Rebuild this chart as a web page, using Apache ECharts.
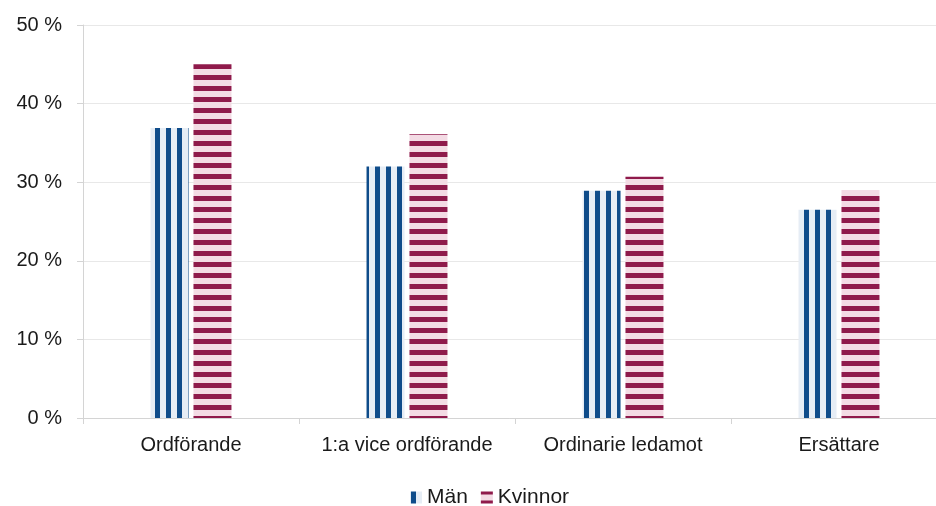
<!DOCTYPE html>
<html>
<head>
<meta charset="utf-8">
<script src="https://cdn.jsdelivr.net/npm/echarts@6/dist/echarts.min.js"></script>
<style>
html,body{margin:0;padding:0;background:#fff;overflow:hidden;}
#c{width:936px;height:506px;}
</style>
</head>
<body>
<div id="c"></div>
<script>
const categories = ['Ordförande', '1:a vice ordförande', 'Ordinarie ledamot', 'Ersättare'];
const manValues = [36.9, 32.0, 28.9, 26.5];
const kvinnorValues = [45.0, 36.1, 30.7, 29.0];
const yTicks = { min: 0, max: 50, interval: 10 };

function makePattern(bg, fg, vertical, offset) {
  const size = 11, stripe = 5;
  const cv = document.createElement('canvas');
  cv.width = size; cv.height = size;
  const ctx = cv.getContext('2d');
  ctx.fillStyle = bg;
  ctx.fillRect(0, 0, size, size);
  ctx.fillStyle = fg;
  for (let i = 0; i < stripe; i++) {
    const p = (offset + i) % size;
    if (vertical) ctx.fillRect(p, 0, 1, size);
    else ctx.fillRect(0, p, size, 1);
  }
  return cv;
}

const manPattern = { image: makePattern('#e6edf5', '#0f4c8a', true, 1), repeat: 'repeat' };
const kvPattern = { image: makePattern('#f3dbe4', '#8f1a4b', false, 9), repeat: 'repeat' };

const font = '"Liberation Sans", Arial, sans-serif';
const chart = echarts.init(document.getElementById('c'), null, { renderer: 'canvas' });
chart.setOption({
  animation: false,
  textStyle: { fontFamily: font },
  grid: { left: 83, right: -11, top: 25, bottom: 88, containLabel: false, outerBoundsMode: 'none' },
  legend: {
    left: 405, top: 482,
    itemWidth: 12, itemHeight: 12, itemGap: 13,
    icon: 'rect',
    textStyle: { fontFamily: font, fontSize: 21, color: '#1a1a1a', padding: [0, 0, 0, 0] },
    data: ['Män', 'Kvinnor']
  },
  xAxis: {
    type: 'category',
    data: categories,
    axisLine: { show: true, lineStyle: { color: '#d4d4d4', width: 1 } },
    axisTick: { show: true, length: 6, lineStyle: { color: '#d4d4d4' } },
    axisLabel: { fontFamily: font, fontSize: 20, color: '#1a1a1a', margin: 17, interval: 0, hideOverlap: false }
  },
  yAxis: {
    type: 'value',
    min: yTicks.min, max: yTicks.max, interval: yTicks.interval,
    axisLine: { show: true, lineStyle: { color: '#d4d4d4', width: 1 } },
    axisTick: { show: true, length: 6, lineStyle: { color: '#d4d4d4' } },
    splitLine: { show: true, lineStyle: { color: '#e8e8e8', width: 1 } },
    axisLabel: { fontFamily: font, fontSize: 20, color: '#1a1a1a', margin: 21, formatter: '{value} %' }
  },
  series: [
    {
      name: 'Män', type: 'bar', data: manValues,
      barWidth: 38, barGap: '13%',
      itemStyle: { color: manPattern }
    },
    {
      name: 'Kvinnor', type: 'bar', data: kvinnorValues,
      barWidth: 38,
      itemStyle: { color: kvPattern }
    }
  ]
});
</script>
</body>
</html>
